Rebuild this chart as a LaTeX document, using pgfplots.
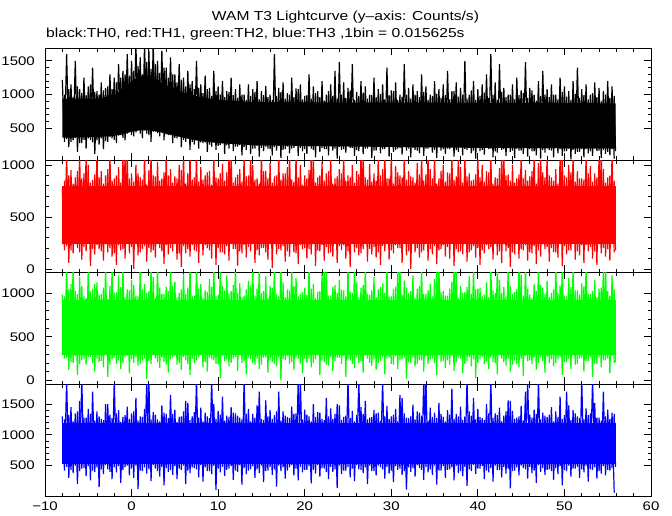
\documentclass[border=0pt]{standalone}
\usepackage{fontspec}
\setmainfont{Liberation Sans}[FakeStretch=1.2]
\usepackage{pgfplots}
\pgfplotsset{compat=1.18}
\begin{document}
\begin{tikzpicture}
\useasboundingbox (0pt,0pt) rectangle (672pt,515pt);
\pgfplotsset{
  panel/.style={
    scale only axis, width=606pt, height=112pt, anchor=south west,
    xmin=-10, xmax=60, xtick={-10,0,...,60}, minor x tick num=4,
    minor y tick num=4, scaled ticks=false,
    tick align=inside, major tick length=7pt, minor tick length=3.5pt,
    axis line style={line width=0.9pt},
    every tick/.style={line width=0.8pt, black},
    xticklabels={},
    /pgf/number format/assume math mode=true,
    /pgf/number format/1000 sep={},
    tick label style={font=\fontsize{12.5}{12.5}\selectfont, inner sep=0pt},
    yticklabel style={xshift=-10pt},
    xticklabel style={yshift=-5.7pt},
  },
  zig/.style={line width=1.2pt, line join=bevel, mark=none},
}
% ---------- Panel 1 : TH0 (black)
\begin{axis}[panel, at={(45pt,355pt)}, ymin=30, ymax=1690, ytick={500,1000,1500}]
\addplot[fill=black, draw=none] coordinates {(-8,940)(-4,940)(-2,990)(-1,1080)(0,1200)(1,1270)(2,1280)(3,1220)(4,1130)(6,1030)(8,960)(10,920)(14,890)(25,880)(40,880)(55.9,870)(55.9,200)(40,210)(25,230)(14,250)(10,280)(8,310)(6,360)(4,420)(3,450)(2,470)(1,470)(0,450)(-1,410)(-2,390)(-4,370)(-8,360)};
\addplot[zig, black] coordinates {
(-8,1216)(-7.75,300)(-7.5,1600)(-7.25,220)(-7,1150)(-6.75,320)(-6.5,1500)(-6.25,150)(-6,1080)(-5.75,280)(-5.5,1250)(-5.25,200)(-5,1120)(-4.75,330)(-4.5,1400)(-4.25,120)
(-4,1050)(-3.75,260)(-3.5,1180)(-3.25,190)(-3,1100)(-2.75,300)(-2.5,1300)(-2.25,350)(-2,1250)(-1.75,280)(-1.5,1450)(-1.25,400)(-1,1350)(-0.75,320)(-0.5,1600)(-0.25,450)
(0,1500)(0.25,380)(0.5,1750)(0.75,480)(1,1550)(1.25,350)(1.5,1750)(1.75,420)(2,1650)(2.25,300)(2.5,1750)(2.75,450)(3,1500)(3.25,380)(3.5,1650)(3.75,320)
(4,1400)(4.25,400)(4.5,1550)(4.75,280)(5,1300)(5.25,350)(5.5,1450)(5.75,220)(6,1250)(6.25,300)(6.5,1350)(6.75,180)(7,1200)(7.25,260)(7.5,1500)(7.75,200)
(8,1150)(8.25,280)(8.5,1280)(8.75,150)(9,1100)(9.25,230)(9.5,1350)(9.75,180)(10,1120)(10.25,250)(10.5,1200)(10.75,120)(11,1050)(11.25,200)(11.5,1250)(11.75,160)
(12,1080)(12.25,230)(12.5,1150)(12.75,100)(13,1000)(13.25,180)(13.5,1150)(13.75,120)(14,1080)(14.25,200)(14.5,1200)(14.75,80)(15,1050)(15.25,160)(15.5,1130)(15.75,200)
(16,1000)(16.25,100)(16.5,1600)(16.75,170)(17,1100)(17.25,60)(17.5,1180)(17.75,190)(18,1020)(18.25,130)(18.5,1250)(18.75,210)(19,1090)(19.25,90)(19.5,1150)(19.75,160)
(20,980)(20.25,120)(20.5,1300)(20.75,200)(21,1120)(21.25,70)(21.5,1050)(21.75,150)(22,1200)(22.25,190)(22.5,1000)(22.75,100)(23,1150)(23.25,170)(23.5,1350)(23.75,50)
(24,1480)(24.25,180)(24.5,1180)(24.75,140)(25,1100)(25.25,210)(25.5,1450)(25.75,90)(26,1040)(26.25,160)(26.5,1200)(26.75,120)(27,1120)(27.25,200)(27.5,1000)(27.75,60)
(28,1250)(28.25,170)(28.5,1080)(28.75,130)(29,1150)(29.25,190)(29.5,1400)(29.75,80)(30,1060)(30.25,150)(30.5,1180)(30.75,200)(31,1000)(31.25,110)(31.5,1450)(31.75,170)
(32,1100)(32.25,70)(32.5,1150)(32.75,180)(33,1050)(33.25,130)(33.5,1300)(33.75,90)(34,1120)(34.25,200)(34.5,1000)(34.75,140)(35,1200)(35.25,60)(35.5,1080)(35.75,170)
(36,1150)(36.25,120)(36.5,1350)(36.75,190)(37,1050)(37.25,80)(37.5,1180)(37.75,150)(38,1100)(38.25,100)(38.5,1500)(38.75,180)(39,1000)(39.25,130)(39.5,1200)(39.75,50)
(40,1080)(40.25,160)(40.5,1150)(40.75,110)(41,1300)(41.25,190)(41.5,1600)(41.75,70)(42,1180)(42.25,140)(42.5,1450)(42.75,180)(43,1100)(43.25,90)(43.5,1000)(43.75,150)
(44,1150)(44.25,60)(44.5,1250)(44.75,170)(45,1060)(45.25,120)(45.5,1480)(45.75,80)(46,1100)(46.25,160)(46.5,1000)(46.75,100)(47,1200)(47.25,50)(47.5,1350)(47.75,140)
(48,1080)(48.25,180)(48.5,1150)(48.75,70)(49,1000)(49.25,130)(49.5,1250)(49.75,90)(50,1120)(50.25,160)(50.5,1050)(50.75,40)(51,1200)(51.25,120)(51.5,1400)(51.75,150)
(52,1080)(52.25,70)(52.5,1150)(52.75,130)(53,1000)(53.25,90)(53.5,1180)(53.75,160)(54,1100)(54.25,60)(54.5,1050)(54.75,120)(55,1200)(55.25,100)(55.5,1120)(55.75,50)
};
\addplot[zig, black] coordinates {
(-7.75,1000)(-7.5,340)(-7.25,1080)(-7,300)(-6.75,960)(-6.5,360)(-6.25,1120)(-6,280)(-5.75,1020)(-5.5,330)(-5.25,990)(-5,350)(-4.75,1150)(-4.5,290)(-4.25,1040)(-4,320)
(-3.75,1000)(-3.5,350)(-3.25,1060)(-3,310)(-2.75,1120)(-2.5,370)(-2.25,1080)(-2,330)(-1.75,1180)(-1.5,390)(-1.25,1250)(-1,360)(-0.75,1300)(-0.5,420)(-0.25,1280)(0,400)
(0.25,1350)(0.5,440)(0.75,1420)(1,420)(1.25,1300)(1.5,470)(1.75,1480)(2,400)(2.25,1380)(2.5,450)(2.75,1450)(3,430)(3.25,1320)(3.5,460)(3.75,1400)(4,410)
(4.25,1250)(4.5,400)(4.75,1300)(5,360)(5.25,1180)(5.5,380)(5.75,1220)(6,330)(6.25,1120)(6.5,350)(6.75,1150)(7,300)(7.25,1080)(7.5,320)(7.75,1100)(8,290)
(8.25,1020)(8.5,290)(8.75,1080)(9,260)(9.25,980)(9.5,300)(9.75,1050)(10,240)(10.25,1000)(10.5,280)(10.75,960)(11,250)(11.25,1040)(11.5,270)(11.75,990)(12,230)
(12.25,950)(12.5,250)(12.75,1000)(13,220)(13.25,920)(13.5,260)(13.75,980)(14,200)(14.25,1040)(14.5,240)(14.75,930)(15,210)(15.25,990)(15.5,230)(15.75,960)(16,190)
(16.25,920)(16.5,220)(16.75,980)(17,240)(17.25,1040)(17.5,180)(17.75,940)(18,230)(18.25,1000)(18.5,200)(18.75,960)(19,250)(19.25,1080)(19.5,210)(19.75,930)(20,190)
(20.25,990)(20.5,230)(20.75,940)(21,180)(21.25,1020)(21.5,240)(21.75,960)(22,210)(22.25,910)(22.5,190)(22.75,1050)(23,250)(23.25,980)(23.5,200)(23.75,940)(24,220)
(24.25,1000)(24.5,190)(24.75,950)(25,240)(25.25,1060)(25.5,210)(25.75,920)(26,180)(26.25,980)(26.5,250)(26.75,1030)(27,200)(27.25,940)(27.5,230)(27.75,990)(28,170)
(28.25,960)(28.5,240)(28.75,1010)(29,190)(29.25,930)(29.5,220)(29.75,990)(30,250)(30.25,1050)(30.5,180)(30.75,920)(31,210)(31.25,970)(31.5,240)(31.75,1000)(32,200)
(32.25,940)(32.5,210)(32.75,1000)(33,170)(33.25,960)(33.5,240)(33.75,1040)(34,200)(34.25,920)(34.5,230)(34.75,980)(35,180)(35.25,1010)(35.5,220)(35.75,950)(36,190)
(36.25,990)(36.5,200)(36.75,930)(37,240)(37.25,1050)(37.5,180)(37.75,970)(38,220)(38.25,1000)(38.5,190)(38.75,940)(39,230)(39.25,1060)(39.5,170)(39.75,920)(40,210)
(40.25,980)(40.5,180)(40.75,1030)(41,220)(41.25,950)(41.5,200)(41.75,990)(42,160)(42.25,920)(42.5,230)(42.75,1040)(43,190)(43.25,960)(43.5,210)(43.75,1000)(44,170)
(44.25,930)(44.5,200)(44.75,990)(45,170)(45.25,1020)(45.5,220)(45.75,950)(46,190)(46.25,1060)(46.5,160)(46.75,910)(47,210)(47.25,980)(47.5,180)(47.75,1000)(48,200)
(48.25,960)(48.5,170)(48.75,1000)(49,210)(49.25,930)(49.5,190)(49.75,1040)(50,160)(50.25,970)(50.5,200)(50.75,920)(51,180)(51.25,1010)(51.5,150)(51.75,950)(52,190)
(52.25,990)(52.5,190)(52.75,930)(53,160)(53.25,1020)(53.5,200)(53.75,960)(54,170)(54.25,900)(54.5,180)(54.75,1000)(55,150)(55.25,950)(55.5,190)(55.75,980)(55.9,160)
};
\end{axis}
% ---------- Panel 2 : TH1 (red)
\begin{axis}[panel, at={(45pt,243pt)}, ymin=-29, ymax=1048, ytick={0,500,1000}]
\addplot[fill=red, draw=none] coordinates {(-8,800)(55.9,800)(55.9,245)(-8,245)};
\addplot[zig, red] coordinates {
(-8,760)(-7.75,180)(-7.5,1100)(-7.25,60)(-7,950)(-6.75,150)(-6.5,880)(-6.25,200)(-6,1100)(-5.75,90)(-5.5,920)(-5.25,170)(-5,1000)(-4.75,30)(-4.5,860)(-4.25,140)
(-4,1100)(-3.75,190)(-3.5,940)(-3.25,80)(-3,900)(-2.75,160)(-2.5,1100)(-2.25,120)(-2,870)(-1.75,40)(-1.5,980)(-1.25,180)(-1,1100)(-0.75,100)(-0.5,1100)(-0.25,150)
(0,920)(0.25,0)(0.5,1000)(0.75,130)(1,880)(1.25,190)(1.5,1100)(1.75,70)(2,950)(2.25,160)(2.5,900)(2.75,110)(3,1030)(3.25,200)(3.5,870)(3.75,50)
(4,1100)(4.25,140)(4.5,960)(4.75,170)(5,890)(5.25,90)(5.5,1000)(5.75,20)(6,1100)(6.25,150)(6.5,920)(6.75,120)(7,860)(7.25,180)(7.5,1100)(7.75,60)
(8,980)(8.25,130)(8.5,900)(8.75,200)(9,940)(9.25,100)(9.5,1100)(9.75,40)(10,870)(10.25,160)(10.5,1010)(10.75,140)(11,930)(11.25,80)(11.5,1100)(11.75,190)
(12,880)(12.25,30)(12.5,960)(12.75,150)(13,1100)(13.25,110)(13.5,900)(13.75,170)(14,1000)(14.25,60)(14.5,870)(14.75,130)(15,1100)(15.25,200)(15.5,940)(15.75,90)
(16,1020)(16.25,10)(16.5,890)(16.75,140)(17,1100)(17.25,180)(17.5,920)(17.75,70)(18,980)(18.25,120)(18.5,860)(18.75,160)(19,1100)(19.25,50)(19.5,1000)(19.75,190)
(20,900)(20.25,100)(20.5,950)(20.75,140)(21,1100)(21.25,30)(21.5,880)(21.75,170)(22,1030)(22.25,80)(22.5,920)(22.75,150)(23,1100)(23.25,120)(23.5,870)(23.75,60)
(24,960)(24.25,180)(24.5,1100)(24.75,100)(25,900)(25.25,20)(25.5,1000)(25.75,160)(26,940)(26.25,130)(26.5,1100)(26.75,190)(27,880)(27.25,70)(27.5,1010)(27.75,140)
(28,920)(28.25,110)(28.5,1100)(28.75,40)(29,960)(29.25,170)(29.5,870)(29.75,90)(30,1100)(30.25,150)(30.5,990)(30.75,200)(31,900)(31.25,60)(31.5,1100)(31.75,130)
(32,940)(32.25,0)(32.5,880)(32.75,160)(33,1020)(33.25,110)(33.5,1100)(33.75,180)(34,910)(34.25,80)(34.5,960)(34.75,140)(35,1100)(35.25,50)(35.5,870)(35.75,190)
(36,1000)(36.25,120)(36.5,930)(36.75,100)(37,1100)(37.25,30)(37.5,890)(37.75,160)(38,980)(38.25,140)(38.5,1100)(38.75,70)(39,920)(39.25,180)(39.5,860)(39.75,110)
(40,1100)(40.25,40)(40.5,1000)(40.75,150)(41,940)(41.25,190)(41.5,1100)(41.75,90)(42,880)(42.25,130)(42.5,970)(42.75,60)(43,1100)(43.25,170)(43.5,910)(43.75,20)
(44,1000)(44.25,140)(44.5,870)(44.75,100)(45,1100)(45.25,180)(45.5,950)(45.75,80)(46,890)(46.25,150)(46.5,1100)(46.75,50)(47,1020)(47.25,120)(47.5,930)(47.75,190)
(48,1100)(48.25,70)(48.5,880)(48.75,160)(49,960)(49.25,110)(49.5,1100)(49.75,30)(50,900)(50.25,140)(50.5,1000)(50.75,180)(51,1100)(51.25,90)(51.5,940)(51.75,130)
(52,870)(52.25,60)(52.5,1100)(52.75,170)(53,990)(53.25,100)(53.5,920)(53.75,40)(54,1100)(54.25,150)(54.5,960)(54.75,120)(55,880)(55.25,80)(55.5,1100)(55.75,160)
};
\addplot[zig, red] coordinates {
(-7.75,850)(-7.5,220)(-7.25,900)(-7,180)(-6.75,820)(-6.5,240)(-6.25,940)(-6,160)(-5.75,870)(-5.5,210)(-5.25,1100)(-5,250)(-4.75,830)(-4.5,190)(-4.25,910)(-4,230)
(-3.75,880)(-3.5,170)(-3.25,820)(-3,240)(-2.75,960)(-2.5,200)(-2.25,850)(-2,150)(-1.75,900)(-1.5,230)(-1.25,830)(-1,190)(-0.75,1100)(-0.5,250)(-0.25,870)(0,210)
(0.25,840)(0.5,240)(0.75,920)(1,160)(1.25,860)(1.5,220)(1.75,810)(2,200)(2.25,1100)(2.5,180)(2.75,890)(3,250)(3.25,850)(3.5,170)(3.75,930)(4,230)
(4.25,900)(4.5,200)(4.75,830)(5,240)(5.25,870)(5.5,150)(5.75,950)(6,220)(6.25,820)(6.5,190)(6.75,1100)(7,230)(7.25,880)(7.5,170)(7.75,840)(8,250)
(8.25,860)(8.5,230)(8.75,930)(9,180)(9.25,810)(9.5,250)(9.75,880)(10,200)(10.25,920)(10.5,160)(10.75,850)(11,220)(11.25,1100)(11.5,240)(11.75,830)(12,190)
(12.25,910)(12.5,170)(12.75,840)(13,230)(13.25,890)(13.5,210)(13.75,1100)(14,250)(14.25,860)(14.5,180)(14.75,820)(15,200)(15.25,940)(15.5,160)(15.75,870)(16,240)
(16.25,830)(16.5,250)(16.75,900)(17,190)(17.25,860)(17.5,220)(17.75,920)(18,170)(18.25,1100)(18.5,240)(18.75,840)(19,150)(19.25,880)(19.5,230)(19.75,810)(20,200)
(20.25,870)(20.5,190)(20.75,1100)(21,240)(21.25,830)(21.5,180)(21.75,900)(22,230)(22.25,850)(22.5,210)(22.75,940)(23,160)(23.25,820)(23.5,250)(23.75,890)(24,220)
(24.25,920)(24.5,230)(24.75,850)(25,170)(25.25,880)(25.5,250)(25.75,830)(26,200)(26.25,910)(26.5,150)(26.75,1100)(27,240)(27.25,860)(27.5,190)(27.75,840)(28,210)
(28.25,850)(28.5,160)(28.75,900)(29,220)(29.25,1100)(29.5,240)(29.75,870)(30,180)(30.25,820)(30.5,230)(30.75,930)(31,200)(31.25,880)(31.5,250)(31.75,860)(32,170)
(32.25,890)(32.5,240)(32.75,830)(33,200)(33.25,910)(33.5,160)(33.75,850)(34,250)(34.25,1100)(34.5,190)(34.75,870)(35,220)(35.25,820)(35.5,180)(35.75,940)(36,230)
(36.25,840)(36.5,210)(36.75,920)(37,250)(37.25,860)(37.5,190)(37.75,1100)(38,170)(38.25,830)(38.5,240)(38.75,890)(39,160)(39.25,850)(39.5,220)(39.75,910)(40,200)
(40.25,880)(40.5,180)(40.75,840)(41,230)(41.25,930)(41.5,210)(41.75,820)(42,250)(42.25,870)(42.5,170)(42.75,1100)(43,240)(43.25,900)(43.5,200)(43.75,850)(44,160)
(44.25,830)(44.5,250)(44.75,910)(45,190)(45.25,870)(45.5,230)(45.75,850)(46,160)(46.25,940)(46.5,220)(46.75,820)(47,180)(47.25,1100)(47.5,240)(47.75,880)(48,210)
(48.25,900)(48.5,200)(48.75,850)(49,160)(49.25,820)(49.5,240)(49.75,1100)(50,220)(50.25,880)(50.5,180)(50.75,930)(51,250)(51.25,840)(51.5,170)(51.75,870)(52,230)
(52.25,860)(52.5,230)(52.75,920)(53,210)(53.25,840)(53.5,170)(53.75,880)(54,240)(54.25,1100)(54.5,200)(54.75,830)(55,190)(55.25,900)(55.5,250)(55.75,850)(55.9,180)
};
\end{axis}
% ---------- Panel 3 : TH2 (green)
\begin{axis}[panel, at={(45pt,131pt)}, ymin=-41, ymax=1240, ytick={0,500,1000}]
\addplot[fill=green, draw=none] coordinates {(-8,920)(55.9,920)(55.9,295)(-8,295)};
\addplot[zig, green] coordinates {
(-8,980)(-7.75,250)(-7.5,1300)(-7.25,120)(-7,1100)(-6.75,200)(-6.5,1020)(-6.25,60)(-6,1180)(-5.75,230)(-5.5,960)(-5.25,180)(-5,1300)(-4.75,270)(-4.5,1050)(-4.25,100)
(-4,1120)(-3.75,210)(-3.5,990)(-3.25,150)(-3,1300)(-2.75,40)(-2.5,1080)(-2.25,240)(-2,1000)(-1.75,190)(-1.5,1200)(-1.25,130)(-1,1300)(-0.75,260)(-0.5,1040)(-0.25,80)
(0,1150)(0.25,200)(0.5,970)(0.75,170)(1,1300)(1.25,230)(1.5,1100)(1.75,20)(2,1020)(2.25,190)(2.5,1180)(2.75,250)(3,1300)(3.25,140)(3.5,990)(3.75,210)
(4,1070)(4.25,90)(4.5,1300)(4.75,260)(5,1130)(5.25,180)(5.5,1000)(5.75,120)(6,1220)(6.25,230)(6.5,1060)(6.75,60)(7,960)(7.25,200)(7.5,1300)(7.75,270)
(8,1100)(8.25,150)(8.5,1030)(8.75,100)(9,1160)(9.25,240)(9.5,1300)(9.75,190)(10,980)(10.25,30)(10.5,1080)(10.75,220)(11,1200)(11.25,160)(11.5,1020)(11.75,250)
(12,1300)(12.25,110)(12.5,1110)(12.75,200)(13,970)(13.25,70)(13.5,1140)(13.75,240)(14,1300)(14.25,180)(14.5,1050)(14.75,130)(15,1000)(15.25,260)(15.5,1190)(15.75,90)
(16,1080)(16.25,210)(16.5,1300)(16.75,160)(17,960)(17.25,0)(17.5,1120)(17.75,230)(18,1040)(18.25,190)(18.5,1300)(18.75,120)(19,1170)(19.25,250)(19.5,990)(19.75,80)
(20,1060)(20.25,200)(20.5,1300)(20.75,150)(21,1100)(21.25,240)(21.5,1010)(21.75,60)(22,1230)(22.25,210)(22.5,1300)(22.75,170)(23,970)(23.25,110)(23.5,1090)(23.75,260)
(24,1150)(24.25,190)(24.5,1030)(24.75,40)(25,1300)(25.25,230)(25.5,1000)(25.75,140)(26,1120)(26.25,200)(26.5,1060)(26.75,90)(27,1300)(27.25,250)(27.5,980)(27.75,170)
(28,1180)(28.25,120)(28.5,1040)(28.75,220)(29,1110)(29.25,70)(29.5,1300)(29.75,260)(30,960)(30.25,180)(30.5,1070)(30.75,130)(31,1300)(31.25,240)(31.5,1140)(31.75,20)
(32,1000)(32.25,200)(32.5,1200)(32.75,160)(33,1050)(33.25,230)(33.5,1300)(33.75,100)(34,990)(34.25,190)(34.5,1100)(34.75,250)(35,1160)(35.25,60)(35.5,1300)(35.75,210)
(36,1020)(36.25,140)(36.5,970)(36.75,180)(37,1130)(37.25,110)(37.5,1300)(37.75,260)(38,1080)(38.25,80)(38.5,1010)(38.75,220)(39,1190)(39.25,160)(39.5,1300)(39.75,30)
(40,1050)(40.25,240)(40.5,960)(40.75,190)(41,1120)(41.25,130)(41.5,1300)(41.75,210)(42,1000)(42.25,70)(42.5,1150)(42.75,250)(43,1070)(43.25,170)(43.5,1300)(43.75,100)
(44,990)(44.25,230)(44.5,1040)(44.75,150)(45,1210)(45.25,50)(45.5,1300)(45.75,220)(46,980)(46.25,190)(46.5,1100)(46.75,120)(47,1300)(47.25,260)(47.5,1060)(47.75,90)
(48,1140)(48.25,200)(48.5,1000)(48.75,160)(49,1300)(49.25,240)(49.5,1080)(49.75,60)(50,970)(50.25,210)(50.5,1170)(50.75,130)(51,1300)(51.25,180)(51.5,1030)(51.75,250)
(52,1110)(52.25,100)(52.5,1300)(52.75,220)(53,990)(53.25,40)(53.5,1150)(53.75,190)(54,1050)(54.25,150)(54.5,1300)(54.75,230)(55,1020)(55.25,80)(55.5,1200)(55.75,200)
};
\addplot[zig, green] coordinates {
(-7.75,960)(-7.5,260)(-7.25,1040)(-7,210)(-6.75,1300)(-6.5,280)(-6.25,990)(-6,190)(-5.75,1080)(-5.5,240)(-5.25,940)(-5,270)(-4.75,1020)(-4.5,200)(-4.25,1100)(-4,250)
(-3.75,980)(-3.5,220)(-3.25,1060)(-3,290)(-2.75,930)(-2.5,180)(-2.25,1300)(-2,260)(-1.75,1010)(-1.5,230)(-1.25,1070)(-1,200)(-0.75,950)(-0.5,280)(-0.25,1030)(0,240)
(0.25,1090)(0.5,270)(0.75,960)(1,190)(1.25,1040)(1.5,250)(1.75,1000)(2,220)(2.25,1300)(2.5,290)(2.75,940)(3,210)(3.25,1060)(3.5,260)(3.75,990)(4,180)
(4.25,1020)(4.5,240)(4.75,1080)(5,280)(5.25,950)(5.5,200)(5.75,1040)(6,270)(6.25,990)(6.5,190)(6.75,1300)(7,250)(7.25,970)(7.5,230)(7.75,1050)(8,290)
(8.25,940)(8.5,210)(8.75,1010)(9,260)(9.25,1070)(9.5,230)(9.75,960)(10,180)(10.25,1300)(10.5,280)(10.75,1030)(11,240)(11.25,990)(11.5,200)(11.75,1090)(12,270)
(12.25,1000)(12.5,290)(12.75,950)(13,220)(13.25,1040)(13.5,260)(13.75,1080)(14,200)(14.25,970)(14.5,250)(14.75,1300)(15,180)(15.25,1020)(15.5,270)(15.75,940)(16,230)
(16.25,1060)(16.5,190)(16.75,990)(17,270)(17.25,1300)(17.5,240)(17.75,950)(18,280)(18.25,1030)(18.5,210)(18.75,1080)(19,260)(19.25,960)(19.5,190)(19.75,1010)(20,250)
(20.25,980)(20.5,250)(20.75,1050)(21,200)(21.25,940)(21.5,290)(21.75,1020)(22,230)(22.25,1300)(22.5,180)(22.75,970)(23,270)(23.25,1070)(23.5,220)(23.75,1000)(24,260)
(24.25,1040)(24.5,280)(24.75,960)(25,240)(25.25,1010)(25.5,190)(25.75,1300)(26,260)(26.25,950)(26.5,220)(26.75,1090)(27,290)(27.25,990)(27.5,200)(27.75,1030)(28,240)
(28.25,950)(28.5,200)(28.75,1070)(29,270)(29.25,1000)(29.5,250)(29.75,960)(30,190)(30.25,1040)(30.5,280)(30.75,1300)(31,230)(31.25,980)(31.5,260)(31.75,1060)(32,210)
(32.25,1020)(32.5,260)(32.75,940)(33,190)(33.25,1080)(33.5,230)(33.75,990)(34,280)(34.25,1030)(34.5,240)(34.75,960)(35,200)(35.25,1300)(35.5,290)(35.75,1010)(36,220)
(36.25,970)(36.5,230)(36.75,1050)(37,280)(37.25,1300)(37.5,210)(37.75,940)(38,250)(38.25,1000)(38.5,190)(38.75,1070)(39,270)(39.25,990)(39.5,240)(39.75,1040)(40,200)
(40.25,1060)(40.5,270)(40.75,980)(41,220)(41.25,950)(41.5,260)(41.75,1030)(42,200)(42.25,1300)(42.5,290)(42.75,1000)(43,210)(43.25,960)(43.5,250)(43.75,1080)(44,180)
(44.25,1010)(44.5,190)(44.75,1300)(45,250)(45.25,970)(45.5,280)(45.75,1050)(46,230)(46.25,940)(46.5,260)(46.75,1020)(47,200)(47.25,1090)(47.5,220)(47.75,990)(48,270)
(48.25,950)(48.5,240)(48.75,1040)(49,200)(49.25,1000)(49.5,270)(49.75,1300)(50,210)(50.25,960)(50.5,250)(50.75,1070)(51,290)(51.25,1030)(51.5,190)(51.75,980)(52,260)
(52.25,1080)(52.5,220)(52.75,990)(53,270)(53.25,1020)(53.5,190)(53.75,950)(54,260)(54.25,1060)(54.5,230)(54.75,1300)(55,250)(55.25,970)(55.5,280)(55.75,1040)(55.9,210)
};
\end{axis}
% ---------- Panel 4 : TH3 (blue)
\begin{axis}[panel, at={(45pt,19pt)}, ymin=6, ymax=1826, ytick={500,1000,1500},
  xticklabels={−10,0,10,20,30,40,50,60}]
\addplot[fill=blue, draw=none] coordinates {(-8,1200)(55.9,1200)(55.9,520)(-8,520)};
\addplot[zig, blue] coordinates {
(-8,1300)(-7.75,420)(-7.5,1900)(-7.25,300)(-7,1450)(-6.75,380)(-6.5,1350)(-6.25,200)(-6,1550)(-5.75,450)(-5.5,1280)(-5.25,330)(-5,1420)(-4.75,260)(-4.5,1700)(-4.25,400)
(-4,1380)(-3.75,150)(-3.5,1260)(-3.25,360)(-3,1500)(-2.75,440)(-2.5,1330)(-2.25,280)(-2,1900)(-1.75,390)(-1.5,1400)(-1.25,220)(-1,1290)(-0.75,470)(-0.5,1460)(-0.25,340)
(0,1350)(0.25,300)(0.5,1600)(0.75,120)(1,1300)(1.25,410)(1.5,1420)(1.75,370)(2,1900)(2.25,250)(2.5,1370)(2.75,450)(3,1250)(3.25,320)(3.5,1480)(3.75,180)
(4,1340)(4.25,400)(4.5,1650)(4.75,350)(5,1410)(5.25,280)(5.5,1290)(5.75,430)(6,1380)(6.25,200)(6.5,1520)(6.75,380)(7,1300)(7.25,460)(7.5,1900)(7.75,310)
(8,1440)(8.25,240)(8.5,1360)(8.75,410)(9,1270)(9.25,360)(9.5,1500)(9.75,100)(10,1390)(10.25,390)(10.5,1620)(10.75,330)(11,1310)(11.25,450)(11.5,1450)(11.75,270)
(12,1350)(12.25,400)(12.5,1280)(12.75,190)(13,1900)(13.25,360)(13.5,1420)(13.75,440)(14,1340)(14.25,300)(14.5,1480)(14.75,380)(15,1260)(15.25,230)(15.5,1560)(15.75,420)
(16,1400)(16.25,350)(16.5,1320)(16.75,160)(17,1700)(17.25,410)(17.5,1380)(17.75,290)(18,1290)(18.25,470)(18.5,1460)(18.75,340)(19,1350)(19.25,260)(19.5,1900)(19.75,390)
(20,1410)(20.25,430)(20.5,1300)(20.75,210)(21,1500)(21.25,370)(21.5,1370)(21.75,320)(22,1260)(22.25,450)(22.5,1600)(22.75,280)(23,1430)(23.25,400)(23.5,1340)(23.75,140)
(24,1480)(24.25,360)(24.5,1290)(24.75,420)(25,1900)(25.25,310)(25.5,1390)(25.75,250)(26,1320)(26.25,440)(26.5,1450)(26.75,380)(27,1550)(27.25,200)(27.5,1280)(27.75,410)
(28,1400)(28.25,340)(28.5,1360)(28.75,470)(29,1900)(29.25,290)(29.5,1470)(29.75,370)(30,1300)(30.25,230)(30.5,1420)(30.75,430)(31,1650)(31.25,350)(31.5,1350)(31.75,110)
(32,1270)(32.25,400)(32.5,1490)(32.75,320)(33,1380)(33.25,460)(33.5,1310)(33.75,270)(34,1900)(34.25,390)(34.5,1440)(34.75,350)(35,1360)(35.25,190)(35.5,1520)(35.75,420)
(36,1290)(36.25,300)(36.5,1400)(36.75,440)(37,1750)(37.25,260)(37.5,1340)(37.75,380)(38,1460)(38.25,330)(38.5,1300)(38.75,170)(39,1380)(39.25,410)(39.5,1600)(39.75,360)
(40,1420)(40.25,450)(40.5,1270)(40.75,280)(41,1500)(41.25,390)(41.5,1900)(41.75,240)(42,1350)(42.25,430)(42.5,1440)(42.75,310)(43,1310)(43.25,370)(43.5,1560)(43.75,130)
(44,1390)(44.25,420)(44.5,1280)(44.75,340)(45,1470)(45.25,460)(45.5,1700)(45.75,290)(46,1330)(46.25,380)(46.5,1410)(46.75,220)(47,1900)(47.25,400)(47.5,1360)(47.75,350)
(48,1290)(48.25,440)(48.5,1450)(48.75,270)(49,1380)(49.25,360)(49.5,1620)(49.75,180)(50,1320)(50.25,410)(50.5,1480)(50.75,320)(51,1400)(51.25,450)(51.5,1300)(51.75,300)
(52,1900)(52.25,390)(52.5,1430)(52.75,240)(53,1350)(53.25,430)(53.5,1520)(53.75,290)(54,1280)(54.25,370)(54.5,1700)(54.75,340)(55,1410)(55.25,420)(55.5,1360)(55.75,60)
};
\addplot[zig, blue] coordinates {
(-7.75,1250)(-7.5,480)(-7.25,1320)(-7,430)(-6.75,1220)(-6.5,500)(-6.25,1380)(-6,410)(-5.75,1900)(-5.5,460)(-5.25,1280)(-5,490)(-4.75,1340)(-4.5,420)(-4.25,1230)(-4,470)
(-3.75,1300)(-3.5,440)(-3.25,1240)(-3,510)(-2.75,1500)(-2.5,400)(-2.25,1270)(-2,470)(-1.75,1350)(-1.5,490)(-1.25,1210)(-1,430)(-0.75,1320)(-0.5,500)(-0.25,1260)(0,450)
(0.25,1380)(0.5,500)(0.75,1230)(1,420)(1.25,1290)(1.5,470)(1.75,1900)(2,440)(2.25,1250)(2.5,510)(2.75,1330)(3,410)(3.25,1220)(3.5,480)(3.75,1360)(4,460)
(4.25,1270)(4.5,430)(4.75,1340)(5,490)(5.25,1210)(5.5,450)(5.75,1300)(6,500)(6.25,1550)(6.5,420)(6.75,1240)(7,470)(7.25,1370)(7.5,440)(7.75,1280)(8,510)
(8.25,1220)(8.5,470)(8.75,1300)(9,410)(9.25,1900)(9.5,500)(9.75,1260)(10,450)(10.25,1330)(10.5,480)(10.75,1230)(11,430)(11.25,1290)(11.5,490)(11.75,1360)(12,420)
(12.25,1310)(12.5,510)(12.75,1250)(13,460)(13.25,1340)(13.5,420)(13.75,1220)(14,490)(14.25,1280)(14.5,440)(14.75,1700)(15,500)(15.25,1240)(15.5,410)(15.75,1300)(16,480)
(16.25,1260)(16.5,440)(16.75,1380)(17,500)(17.25,1230)(17.5,470)(17.75,1310)(18,420)(18.25,1270)(18.5,510)(18.75,1340)(19,450)(19.25,1900)(19.5,480)(19.75,1250)(20,430)
(20.25,1330)(20.5,490)(20.75,1220)(21,430)(21.25,1290)(21.5,510)(21.75,1360)(22,460)(22.25,1240)(22.5,400)(22.75,1300)(23,480)(23.25,1260)(23.5,440)(23.75,1500)(24,500)
(24.25,1240)(24.5,420)(24.75,1310)(25,480)(25.25,1270)(25.5,450)(25.75,1220)(26,510)(26.25,1900)(26.5,430)(26.75,1340)(27,470)(27.25,1250)(27.5,500)(27.75,1290)(28,410)
(28.25,1350)(28.5,500)(28.75,1230)(29,440)(29.25,1300)(29.5,480)(29.75,1260)(30,420)(30.25,1330)(30.5,490)(30.75,1220)(31,450)(31.25,1600)(31.5,410)(31.75,1280)(32,470)
(32.25,1300)(32.5,460)(32.75,1250)(33,510)(33.25,1360)(33.5,430)(33.75,1900)(34,480)(34.25,1230)(34.5,440)(34.75,1290)(35,500)(35.25,1270)(35.5,420)(35.75,1340)(36,490)
(36.25,1220)(36.5,430)(36.75,1330)(37,470)(37.25,1260)(37.5,500)(37.75,1300)(38,410)(38.25,1240)(38.5,480)(38.75,1900)(39,440)(39.25,1310)(39.5,510)(39.75,1250)(40,450)
(40.25,1290)(40.5,490)(40.75,1240)(41,420)(41.25,1350)(41.5,460)(41.75,1270)(42,500)(42.25,1320)(42.5,430)(42.75,1220)(43,480)(43.25,1380)(43.5,450)(43.75,1550)(44,410)
(44.25,1260)(44.5,470)(44.75,1300)(45,500)(45.25,1230)(45.5,440)(45.75,1900)(46,480)(46.25,1280)(46.5,420)(46.75,1340)(47,510)(47.25,1250)(47.5,460)(47.75,1310)(48,430)
(48.25,1330)(48.5,410)(48.75,1220)(49,460)(49.25,1290)(49.5,490)(49.75,1260)(50,430)(50.25,1700)(50.5,500)(50.75,1240)(51,450)(51.25,1350)(51.5,480)(51.75,1270)(52,440)
(52.25,1250)(52.5,500)(52.75,1320)(53,440)(53.25,1900)(53.5,470)(53.75,1280)(54,410)(54.25,1230)(54.5,490)(54.75,1300)(55,430)(55.25,1260)(55.5,460)(55.75,1340)(55.9,480)
};
\end{axis}
\node[anchor=base, inner sep=0pt, font=\fontsize{13}{13}\selectfont] at (345.5pt,494pt) {WAM T3 Lightcurve (y–axis: Counts/s)};
\node[anchor=base west, inner sep=0pt, font=\fontsize{13}{13}\selectfont] at (46pt,477pt) {black:TH0, red:TH1, green:TH2, blue:TH3 ,1bin = 0.015625s};
\end{tikzpicture}
\end{document}
